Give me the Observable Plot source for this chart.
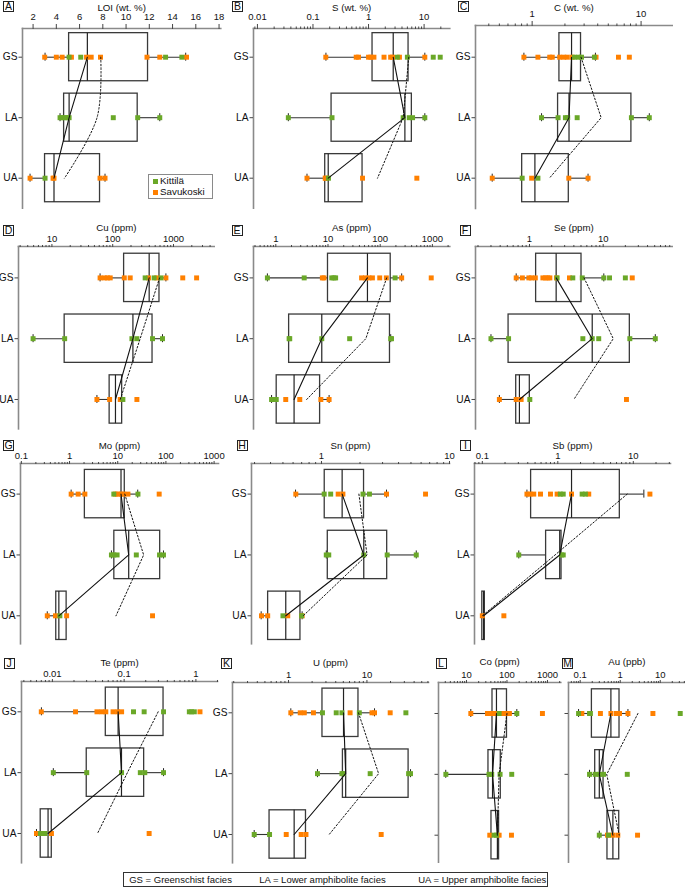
<!DOCTYPE html>
<html><head><meta charset="utf-8">
<script src="https://cdn.jsdelivr.net/npm/d3@7"></script>
<script src="https://cdn.jsdelivr.net/npm/@observablehq/plot@0.6"></script>
<style>
body{margin:0;background:#fff;font-family:"Liberation Sans",Arial,sans-serif;}
#root{position:relative;width:685px;height:891px;overflow:hidden;background:#fff;}
.plab{position:absolute;box-sizing:border-box;width:11px;height:11px;border:1px solid #222;font-size:10.5px;line-height:9px;text-align:center;color:#111;}
.leg{position:absolute;box-sizing:border-box;background:#fff;font-size:9.5px;color:#111;}
.sq{position:absolute;width:5px;height:5px;}
.lt{position:absolute;white-space:nowrap;}
</style></head><body><div id="root"></div><script>
// ---------- data ----------
const facies = ["GS", "LA", "UA"];
const panelIds = ["A","B","C","D","E","F","G","H","I","J","K","L","M"];
const titles = ["LOI (wt. %)","S (wt. %)","C (wt. %)","Cu (ppm)","As (ppm)","Se (ppm)","Mo (ppm)","Sn (ppm)","Sb (ppm)","Te (ppm)","U (ppm)","Co (ppm)","Au (ppb)"];
const xDomains = [[1.09,18.15],[0.0085,29],[0.302,19.3],[2.82,4670],[0.374,2155],[0.185,86.4],[0.096,1234],[0.284,10],[0.0788,31.1],[0.00371,2.0],[0.193,61],[2.04,2130],[0.051,42]];
const majorTicks = [[2,4,6,8,10,12,14,16,18],[0.01,0.1,1,10],[1,10],[10,100,1000],[1,10,100,1000],[1,10],[0.1,1,10,100,1000],[1,10],[0.1,1,10],[0.01,0.1,1],[1,10],[10,100,1000],[0.1,1,10]];
// box statistics per panel: [GS, LA, UA]
const q1s = [[5.1,4.67,3.03],[1.18,0.216,0.166],[1.78,1.73,0.81],[154,16.2,89],[10,1.8,1.04],[1.23,0.52,0.66],[2.08,8.5,0.53],[1.06,1.12,0.383],[0.443,0.70,0.1],[0.0555,0.0301,0.00687],[2.71,4.94,0.573],[43.9,34.9,41.4],[0.196,0.237,0.48]];
const medians = [[6.67,5.1,3.8],[2.78,4.51,0.188],[2.3,2.18,1.06],[398,215,111],[57,7.6,2.24],[2.3,7.1,0.73],[11.7,16.9,0.6],[1.45,2.14,0.526],[1.52,1.06,0.104],[0.0824,0.0918,0.0087],[5.03,5.36,1.18],[55,44,58],[0.585,0.3,0.656]];
const q3s = [[11.89,11.0,7.76],[5.25,6.02,0.78],[2.81,8.15,2.17],[588,452,143],[159,154,7.06],[5.08,23,1.01],[14,76,0.87],[2.15,3.26,0.685],[6.63,1.12,0.108],[0.354,0.19,0.0098],[7.8,34,1.67],[100,70.3,63.8],[0.96,0.383,0.944]];
const whiskerLows = [[3.03,4.32,1.74],[0.171,0.036,0.078],[0.84,1.22,0.43],[62,4.9,55],[0.69,1.8,0.83],[0.66,0.3,0.39],[1.08,7.4,0.345],[0.627,1.09,0.338],[0.39,0.304,0.1],[0.00703,0.0103,0.006],[1.07,2.34,0.365],[12.8,3.08,41.4],[0.091,0.171,0.3]];
const whiskerHighs = [[15.13,12.9,8.19],[10.3,10.3,0.78],[3.81,11.9,3.26],[750,659,143],[258,159,10.5],[10.2,51,1.01],[26,89,0.87],[3.22,5.5,0.706],[13.8,1.12,0.108],[0.354,0.354,0.0098],[12.5,36,1.67],[175,70.3,63.8],[1.56,0.383,0.944]];
const means = [[7.82,7.5,4.7],[5.3,4.2,1.45],[2.81,4.3,1.44],[590,283,133],[133,53,3.9],[5.5,13.7,4.0],[14,34.5,9.2],[1.96,2.27,0.72],[8.3,0.92,0.1],[0.298,0.111,0.0425],[7.8,14.1,3.3],[100,63.8,58],[2.77,0.46,0.944]];
// individual samples per panel: [GS], [LA], [UA]
const kittila = [
  [[5.1,6.1,13.4,14.8],[4.32,4.5,4.72,4.95,5.1,8.9,11.0,12.9],[3.03]],
  [[3.3,5.0,14.6,19.5],[0.036,0.22,4.2,5.4,6.2,10.3],[0.19]],
  [[2.45,2.68,2.84,3.73],[1.22,1.73,2.02,2.12,2.59,8.15,11.9],[0.81,1.13]],
  [[342,480,620],[4.9,16.2,207,250,452,659],[147]],
  [[0.69,3.5,11.8,13,14,193],[1.8,1.85,7.6,26,159,165],[0.83,1.02]],
  [[2.37,3.87,5.2,10.2,12.2,20],[0.3,0.52,5.3,7.1,8.7,23,51],[1.01]],
  [[8.3,26.3],[7.4,8.3,9.7,24.3,73.7,89],[0.63]],
  [[1.05,1.18,2.11,2.37],[1.09,1.14,2.14,3.26,5.5],[0.5,0.7]],
  [[1.08,1.18,2.1,2.32],[0.304,1.12,1.18],[]],
  [[0.135,0.19,0.354,0.81,0.87,0.95],[0.0103,0.0301,0.092,0.168,0.194,0.354],[0.0068,0.0073,0.0079]],
  [[2.71,4.06,4.8,8.0,31.4],[2.34,4.8,5.0,11.0,34,36],[0.365,0.573]],
  [[64,175],[3.1,36,42,67.5,131],[48,55]],
  [[0.091,0.171,0.18,31.6],[0.171,0.237,0.3,0.383,1.5],[0.3,0.51]]
];
const savukoski = [
  [[3.0,4.0,4.5,5.3,6.6,7.0,7.8,11.8,12.9,15.2],[],[1.74,3.72,3.8,7.76,8.19]],
  [[0.17,0.6,0.66,1.0,1.1,1.25,1.9,2.5,2.7,3.6,10.3],[],[0.078,0.166,0.17,0.78,7.4]],
  [[0.84,1.13,1.45,1.53,1.79,1.95,2.1,2.33,3.86,6.2,7.8],[],[0.43,0.99,2.17,3.26]],
  [[62,73,82,91,155,194,388,530,750,1420,2400],[],[55,89,133,250]],
  [[7.8,8.4,44,52,61,71,98,131,258,950],[],[1.55,2.88,7.3,10.5]],
  [[0.66,0.8,0.98,1.06,1.2,1.52,1.65,1.77,1.89,2.32,3.49,24.8],[],[0.39,0.66,0.77,20.7]],
  [[1.08,1.51,2.08,8.94,10,11.7,13.3,16.3,72.5],[],[0.345,0.51,0.87,52.8]],
  [[0.63,1.35,1.47,3.22,6.5],[],[0.34,0.38,0.545,0.706]],
  [[0.39,0.43,0.48,0.59,0.8,0.98,1.52,2.57,16.6],[],[0.1,0.193]],
  [[0.007,0.021,0.0418,0.0484,0.0555,0.07,0.081,0.0922,1.14],[],[0.006,0.0097,0.223]],
  [[1.07,1.41,1.59,2.08,6.1,11.6,12.5,19.8],[],[0.935,1.45,1.67,15.2]],
  [[12.8,33,38,44,50,58,66,77,88,100,115,750],[],[37.6,64,129]],
  [[0.11,0.32,0.585,0.8,0.96,1.56,6.56],[],[0.48,0.65,0.87,2.71]]
];
const sites = ["Kittilä", "Savukoski"];
const legendNotes = ["GS = Greenschist facies", "LA = Lower amphibolite facies", "UA = Upper amphibolite facies"];

// ---------- layout ----------
// xLeft, xRight, yTop, yBottom, GS centre, band step, row
const layout = [
  [21.7,220,28.3,208,57,60.5,0],[252.7,449,28.3,208,57,60.5,0],[475,671.7,25,208,56.7,60.5,0],
  [18.3,214,246.3,428.7,277.7,60.8,1],[252.7,449,246.3,428.7,277.7,60.8,1],[475,671.7,246.3,428.7,277.7,60.8,1],
  [20,218,462.7,643,493.3,60.85,2],[251,449,462.7,643,493.3,60.85,2],[474,670,462.7,643,493.3,60.85,2],
  [20.7,216.7,680.7,862,711,60.85,3],[232.3,428.3,681.7,862,712,60.85,3],[437.7,560,682.3,862,713.3,60.85,3],[568.3,685,682.3,862,713.3,60.85,3]
];
const labelBoxes = [[3,1],[232,1],[458,1],[3,224.5],[231.5,224.5],[459.5,224.5],[3,439.5],[236.5,439.5],[460,439.5],[3.5,657.5],[221,657.5],[435.5,657.5],[562,657.5]];
const titleY = [7.5,228,445,661.7];
const tickSizes = [5,3,3,3];
const tickPads = [3,1.5,1.5,1.5];
const GREEN = "#6aa828", ORANGE = "#ff8000";
const root = document.getElementById("root");

function minorTicks(dom){
  const out=[];
  for(let e=Math.floor(Math.log10(dom[0]))-1;e<=Math.ceil(Math.log10(dom[1]));e++){
    for(let k=2;k<=9;k++){const v=k*Math.pow(10,e); if(v>=dom[0]&&v<=dom[1]) out.push(v);}
  }
  return out;
}

panelIds.forEach((id,i)=>{
  const [xL,xR,yT,yB,gsY,step,row] = layout[i];
  const mt=32, ml=30, mr=8, mb=2;
  const W = ml + (xR-xL) + mr, H = mt + (yB-yT) + mb;
  const top = yT - mt, left = xL - ml;
  const pi = 0.205, bw = step*(1-pi);
  const r0 = gsY - top - bw/2, r1 = r0 + step*(3-pi);
  const isLog = i !== 0;
  const stats = facies.map((f,k)=>({facies:f,q1:q1s[i][k],median:medians[i][k],q3:q3s[i][k],lo:whiskerLows[i][k],hi:whiskerHighs[i][k],mean:means[i][k]}));
  const lowW = stats.filter(d=>d.lo<d.q1), highW = stats.filter(d=>d.hi>d.q3);
  const caps = [...lowW.map(d=>({facies:d.facies,v:d.lo})), ...highW.map(d=>({facies:d.facies,v:d.hi}))];
  const pts = [];
  facies.forEach((f,k)=>{
    savukoski[i][k].forEach(v=>pts.push({facies:f,value:v,site:sites[1]}));
    kittila[i][k].forEach(v=>pts.push({facies:f,value:v,site:sites[0]}));
  });
  const showY = i < 11;
  const marks = [
    Plot.barX(stats,{x1:"q1",x2:"q3",y:"facies",fill:"none",stroke:"#3a3a3a",strokeWidth:1.3}),
    Plot.tickX(stats,{x:"median",y:"facies",stroke:"#222",strokeWidth:1.2}),
    Plot.ruleY(lowW,{y:"facies",x1:"lo",x2:"q1",stroke:"#333",strokeWidth:1.1}),
    Plot.ruleY(highW,{y:"facies",x1:"q3",x2:"hi",stroke:"#333",strokeWidth:1.1}),
    Plot.tickX(caps,{x:"v",y:"facies",insetTop:bw/2-4,insetBottom:bw/2-4,stroke:"#222",strokeWidth:1}),
    Plot.dot(pts,{x:"value",y:"facies",symbol:"square",r:2.8,fill:d=>d.site===sites[0]?GREEN:ORANGE,stroke:"none"}),
    Plot.line(stats,{x:"median",y:"facies",stroke:"#111",strokeWidth:1.1}),
    Plot.line(stats,{x:"mean",y:"facies",stroke:"#111",strokeWidth:1,strokeDasharray:"1.6,2",curve:i===0?"catmull-rom":"linear"}),
    Plot.frame({anchor:"top",stroke:"#8a8a8a",strokeWidth:1.6}),
    Plot.frame({anchor:"left",stroke:"#8a8a8a",strokeWidth:1.6}),
    Plot.axisX({anchor:"top",ticks:majorTicks[i],tickSize:tickSizes[row],tickPadding:tickPads[row],tickFormat:d=>String(d),label:null,fontSize:9.5,stroke:"#444"}),
    Plot.axisY({anchor:"left",tickSize:3.5,tickPadding:1.5,label:null,fontSize:10.2,stroke:"#444",tickFormat:showY?(d=>d):(()=>"")}),
    Plot.text([titles[i]],{text:d=>d,frameAnchor:"top",dy:-(yT-titleY[row]),lineAnchor:"middle",fontSize:9.7,fill:"#111"})
  ];
  if (isLog) marks.splice(11,0,Plot.axisX({anchor:"top",ticks:minorTicks(xDomains[i]),tickSize:row===0?2.5:2,tickFormat:()=>"",label:null,stroke:"#444"}));
  const chart = Plot.plot({
    width:W,height:H,marginTop:mt,marginLeft:ml,marginRight:mr,marginBottom:mb,
    x:{type:isLog?"log":"linear",domain:xDomains[i]},
    y:{type:"band",domain:facies,range:[r0,r1],paddingInner:pi,paddingOuter:0,round:false},
    style:{background:"transparent",overflow:"visible",maxWidth:"none",fontFamily:"'Liberation Sans', Arial, sans-serif",color:"#111"},
    marks
  });
  chart.style.position="absolute"; chart.style.left=left+"px"; chart.style.top=top+"px";
  root.appendChild(chart);
  const lb=document.createElement("div"); lb.className="plab";
  lb.style.left=labelBoxes[i][0]+"px"; lb.style.top=labelBoxes[i][1]+"px"; lb.textContent=id;
  root.appendChild(lb);
});

// legend in panel A
const lg=document.createElement("div"); lg.className="leg";
Object.assign(lg.style,{left:"148px",top:"174px",width:"65px",height:"25px",border:"1px solid #8a8a8a",fontSize:"9.8px"});
[[GREEN,sites[0],7],[ORANGE,sites[1],18]].forEach(([c,t,y])=>{
  const s=document.createElement("div"); s.className="sq"; Object.assign(s.style,{left:"4px",top:(y-3)+"px",background:c}); lg.appendChild(s);
  const tx=document.createElement("div"); tx.className="lt"; Object.assign(tx.style,{left:"11px",top:(y-7)+"px",lineHeight:"12px"}); tx.textContent=t; lg.appendChild(tx);
});
root.appendChild(lg);
// bottom legend
const bl=document.createElement("div"); bl.className="leg";
Object.assign(bl.style,{left:"122.7px",top:"871.7px",width:"425.6px",height:"15.5px",border:"1px solid #333"});
[5.5,135.5,294.5].forEach((x,k)=>{
  const tx=document.createElement("div"); tx.className="lt"; Object.assign(tx.style,{left:x+"px",top:"0px",lineHeight:"13.5px"}); tx.textContent=legendNotes[k]; bl.appendChild(tx);
});
root.appendChild(bl);
</script></body></html>
